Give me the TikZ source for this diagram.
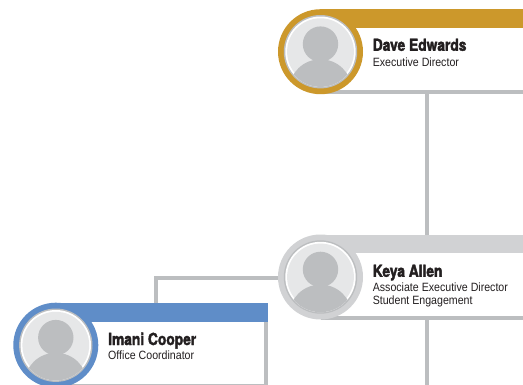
\documentclass[tikz,border=0pt]{standalone}
\usepackage{fontspec}
\setmainfont{Liberation Sans}
\newfontfamily\namefont[FakeStretch=0.83,FakeBold=2.2]{TeX Gyre Heros Bold}
\newfontfamily\rolefont[FakeStretch=0.885]{Liberation Sans}
\usetikzlibrary{calc}
\definecolor{gold}{HTML}{CC982B}
\definecolor{paleband}{HTML}{D1D2D4}
\definecolor{blueband}{HTML}{5F8DC8}
\definecolor{linegray}{HTML}{BCBEC0}
\definecolor{disc}{HTML}{E6E7E8}
\definecolor{ink}{HTML}{231F20}
\tikzset{
  link/.style={draw=linegray,line width=4pt},
  edge/.style={draw=linegray,line width=3.8pt},
  person/.style={circle,minimum size=85pt,inner sep=0pt,outer sep=0pt},
  nametext/.style={anchor=base west,inner sep=0pt,text=ink,font=\namefont\fontsize{16.6}{17}\selectfont},
  roletext/.style={anchor=base west,inner sep=0pt,text=ink,align=left,font=\rolefont\fontsize{12}{13}\selectfont},
}
% #1 name of node, #2 x, #3 y, #4 ring colour
\newcommand{\portrait}[4]{%
  \node[person,fill=#4] (#1) at (#2,#3) {};
  \fill[linegray] (#1.center) circle[radius=36.7];
  \fill[white] (#1.center) circle[radius=35.2];
  \fill[disc] (#1.center) circle[radius=33.4];
  \begin{scope}
    \clip (#1.center) circle[radius=35.2];
    \fill[linegray] ($(#1.center)+(0,-7.6)$) circle[radius=17.7];
    \fill[linegray] ($(#1.center)+(0,37.6)$) ellipse[x radius=31,y radius=30];
  \end{scope}
}
\begin{document}
\begin{tikzpicture}[x=1pt,y=-1pt]
\clip (0,0) rectangle (523,384);
\fill[white] (0,0) rectangle (523,384);
% connectors
\coordinate (below) at (426.5,390);
\coordinate (daveanchor) at (426.5,92);
\coordinate (keyaup) at (426.5,235);
\coordinate (keyadown) at (426.5,318);
\coordinate (elbow) at (155.8,277.8);
\coordinate (imaniup) at (155.8,303);
\coordinate (keyaleft) at (285,277.8);
\draw[link] (daveanchor) -- (keyaup);
\draw[link] (keyadown) -- (below);
\draw[link] (imaniup) -- (elbow) -- (keyaleft);
% Dave
\fill[gold] (320.5,9.2) rectangle (523,28);
\draw[edge] (320.5,92.2) -- (523,92.2);
\portrait{dave}{320.5}{51.7}{gold}
\node[nametext] (davename) at (372.6,50.8) {Dave Edwards};
\node[roletext] (daverole) at (372.6,66) {Executive Director};
% Keya
\fill[paleband] (320.5,234.5) rectangle (523,253);
\draw[edge] (320.5,317.7) -- (523,317.7);
\portrait{keya}{320.5}{277}{paleband}
\node[nametext] (keyaname) at (372.6,276.8) {Keya Allen};
\node[roletext] (keyarole) at (372.6,291.2) {Associate Executive Director};
\node[roletext] (keyarole2) at (372.6,304.6) {Student Engagement};
% Imani
\draw[edge] (266,320) -- (266,390);
\draw[edge] (55.8,385.7) -- (266,385.7);
\fill[blueband] (55.8,302.7) rectangle (267.7,321.7);
\portrait{imani}{55.8}{345.2}{blueband}
\node[nametext] (imaniname) at (108,345) {Imani Cooper};
\node[roletext] (imanirole) at (108,359.7) {Office Coordinator};
\end{tikzpicture}
\end{document}
